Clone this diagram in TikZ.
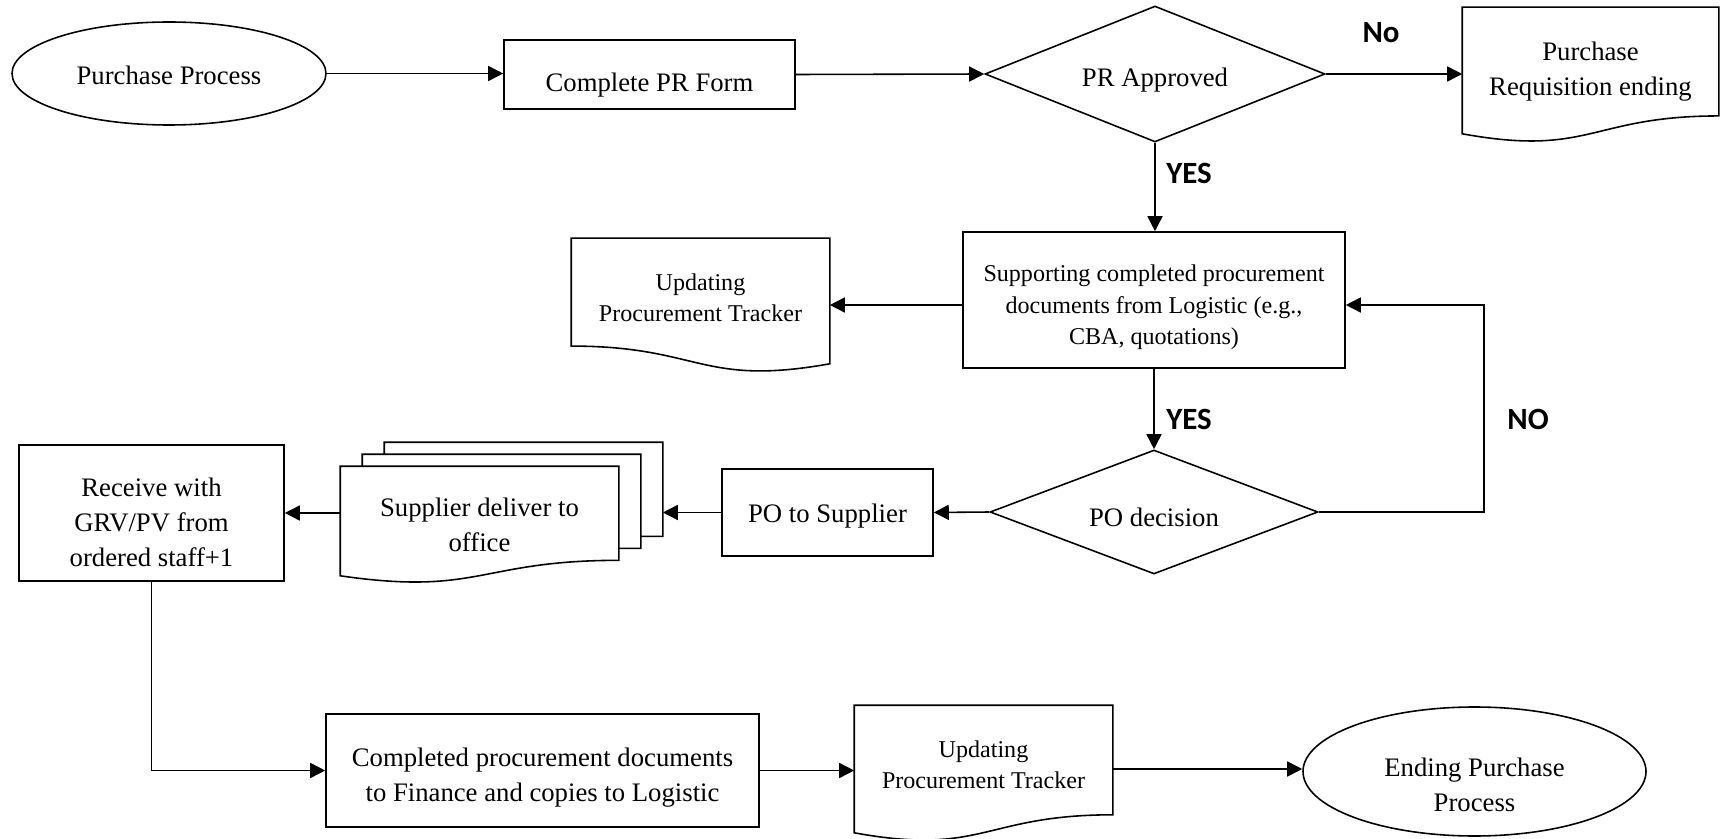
\documentclass[tikz,border=0pt]{standalone}
\usepackage{fontspec}
\setmainfont{Liberation Serif}
\newfontfamily\lblfont{Carlito}
\usepackage{tikz}
\usepackage{xcolor}
\usetikzlibrary{shapes,arrows,arrows.meta,calc}

\begin{document}
\begin{tikzpicture}[line width=0.9pt,
	every node/.style={inner sep=0pt, align=center},
	txt/.style={font=\fontsize{15.2}{19.9}\selectfont},
	smalltxt/.style={font=\fontsize{13.7}{17.9}\selectfont},
	box/.style={draw, rectangle},
	oval/.style={draw, ellipse},
	decision/.style={draw, diamond},
	docnode/.style={rectangle},
	yesno/.style={font=\lblfont\bfseries\fontsize{17.6}{20}\selectfont},
	flow/.style={-{Triangle[length=0.3cm,width=0.3cm]}}]
	\useasboundingbox (0,0) rectangle (34.46,16.76);
	% shapes
	\node[oval, minimum width=6.28cm, minimum height=2.06cm] (pp) at (3.38,15.29) {};
	\node[box, minimum width=5.82cm, minimum height=1.38cm] (prform) at (12.99,15.27) {};
	\node[decision, minimum width=6.80cm, minimum height=2.72cm] (prok) at (23.10,15.28) {};
	\node[docnode, minimum width=5.10cm, minimum height=2.50cm] (prend) at (31.81,15.35) {};
	\node[box, minimum width=7.64cm, minimum height=2.72cm] (support) at (23.08,10.76) {};
	\node[docnode, minimum width=5.14cm, minimum height=2.48cm] (track1) at (14.01,10.74) {};
	\node[decision, minimum width=6.56cm, minimum height=2.48cm] (podec) at (23.08,6.52) {};
	\node[box, minimum width=4.22cm, minimum height=1.74cm] (posup) at (16.55,6.51) {};
	\node[docnode, minimum width=5.54cm, minimum height=2.16cm] (supdoc) at (9.59,6.34) {};
	\node[box, minimum width=5.30cm, minimum height=2.72cm] (receive) at (3.03,6.50) {};
	\node[box, minimum width=8.66cm, minimum height=2.26cm] (findoc) at (10.85,1.35) {};
	\node[docnode, minimum width=5.14cm, minimum height=2.52cm] (track2) at (19.67,1.38) {};
	\node[oval, minimum width=6.86cm, minimum height=2.58cm] (endp) at (29.49,1.33) {};

	% texts
	\node[txt] (pptext) at ([yshift=-0.04cm]pp.center) {Purchase Process};
	\node[txt] (prformtext) at ([yshift=-0.22cm]prform.center) {Complete PR Form};
	\node[txt] (proktext) at ([yshift=-0.13cm]prok.center) {PR Approved};
	\node[txt] (prendtext) at ([yshift=-0.02cm]prend.center) {Purchase\\Requisition ending};
	\node[smalltxt] (supporttext) at ([yshift=-0.15cm]support.center) {Supporting completed procurement\\documents from Logistic (e.g.,\\CBA, quotations)};
	\node[smalltxt] (track1text) at ([yshift=0.07cm]track1.center) {Updating\\Procurement Tracker};
	\node[txt] (podectext) at ([yshift=-0.11cm]podec.center) {PO decision};
	\node[txt] (posuptext) at ([yshift=-0.07cm]posup.center) {PO to Supplier};
	\node[txt] (supdoctext) at ([yshift=-0.07cm]supdoc.center) {Supplier deliver to\\office};
	\node[txt] (receivetext) at ([yshift=-0.18cm]receive.center) {Receive with\\GRV/PV from\\ordered staff+1};
	\node[txt] (findoctext) at ([yshift=-0.15cm]findoc.center) {Completed procurement documents\\to Finance and copies to Logistic};
	\node[smalltxt] (track2text) at ([yshift=0.08cm]track2.center) {Updating\\Procurement Tracker};
	\node[txt] (endptext) at ([yshift=-0.27cm]endp.center) {Ending Purchase\\Process};

	\node[yesno] (lblno) at (27.62,16.10) {No};
	\node[yesno] (lblyes) at (23.78,13.30) {YES};
	\node[yesno] (lblyes2) at (23.78,8.38) {YES};
	\node[yesno] (lblno2) at (30.56,8.38) {NO};

	% document outlines
	\foreach \n/\a/\b in {prend/west/east, track1/east/west, supdoc/west/east, track2/west/east}
		\draw (\n.north \a) -- (\n.north \b) -- ($(\n.north \b)!0.859!(\n.south \b)$) .. controls ($(\n.north)!0.859!(\n.south)$) and ($(\n.north)!1.185!(\n.south)$) .. (\n.south \a) -- cycle;
	\coordinate (supcorner) at ($(supdoc.north east)!0.859!(supdoc.south east)$);
	\foreach \d in {1,2}
		\draw ($(supdoc.north west)+(\d*0.44,\d*0.24-0.24)$) -- ($(supdoc.north west)+(\d*0.44,\d*0.24)$) -- ($(supdoc.north east)+(\d*0.44,\d*0.24)$) -- ($(supcorner)+(\d*0.44,\d*0.24)$) -- ($(supcorner)+(\d*0.44-0.44,\d*0.24)$);
	\coordinate (supback) at ($(supdoc.east)+(0.88,0)$);
	\coordinate (loopc) at (29.68,10.66);

	% arrows
	\draw[flow] (pp.east) -- (pp.east -| prform.west);
	\draw[flow] (prform.east) -- (prok.west);
	\draw[flow] (prok.east) -- (prok.east -| prend.west);
	\draw[flow] (prok.south) -- (prok.south |- support.north);
	\draw[flow] (support.south) -- (podec.north);
	\draw[flow] (support.west |- loopc) -- (track1.east |- loopc);
	\draw[flow] (podec.east) -| (loopc) -- (support.east |- loopc);
	\draw[flow] (podec.west) -- (posup.east);
	\draw[flow] (posup.west) -- (posup.west -| supback);
	\draw[flow] (receive.east -| supdoc.west) -- (receive.east);
	\draw[flow] (receive.south) |- (findoc.west);
	\draw[flow] (findoc.east) -- (findoc.east -| track2.west);
	\draw[flow] (track2.east) -- (track2.east -| endp.west);
\end{tikzpicture}
\end{document}
